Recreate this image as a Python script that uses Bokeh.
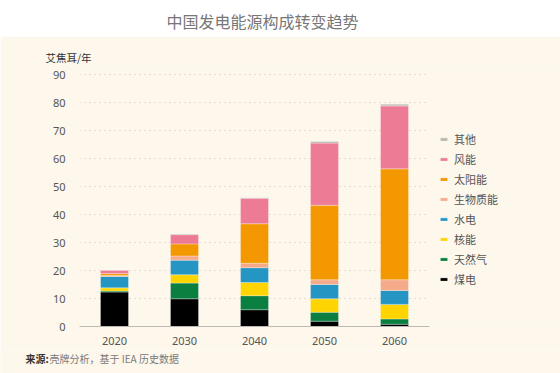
from bokeh.plotting import figure
from bokeh.models import Label, Legend, LegendItem, FixedTicker, Title
from bokeh.layouts import column, row
from bokeh.embed import file_html
from bokeh.resources import INLINE

years = ["2020", "2030", "2040", "2050", "2060"]
series = ["煤电", "天然气", "核能", "水电", "生物质能", "太阳能", "风能", "其他"]
coal = [12.3, 9.9, 6.0, 1.9, 0.8]
gas = [0.4, 5.6, 5.0, 3.2, 1.9]
nuclear = [1.1, 3.0, 4.7, 4.8, 5.2]
hydro = [4.1, 5.2, 5.3, 5.1, 5.0]
biomass = [0.3, 1.5, 1.6, 1.7, 3.8]
solar = [0.7, 4.3, 14.1, 26.6, 39.6]
wind = [1.2, 3.3, 9.1, 22.2, 22.5]
other = [0.1, 0.2, 0.2, 0.6, 0.6]
colors = ["#000000", "#0b7f40", "#ffd400", "#2596c4", "#f5aa8a", "#f39800", "#ed7b96", "#b9b8b1"]
yticks = [0, 10, 20, 30, 40, 50, 60, 70, 80, 90]

CREAM = "#fef7eb"
FONT = "Noto Sans CJK SC"
W = 560

xs = list(range(len(years)))
data = {"x": xs}
for name, vals in zip(series, [coal, gas, nuclear, hydro, biomass, solar, wind, other]):
    data[name] = vals

# ---- title strip (white) ----
t = figure(width=W, height=36, toolbar_location=None, output_backend="svg",
           x_axis_type=None, y_axis_type=None,
           min_border_left=0, min_border_right=0, min_border_top=35, min_border_bottom=0)
t.outline_line_color = None
t.background_fill_color = "white"
t.border_fill_color = "white"
t.grid.visible = False
t.title = Title(text="中国发电能源构成转变趋势", align="left", offset=166, standoff=5,
                text_font=FONT, text_font_size="16px", text_font_style="normal",
                text_color="#777777")

# ---- main chart ----
p = figure(x_range=(-0.5, -0.5 + 481 / 70), y_range=(0, 260 / 2.8), width=W, height=314,
           toolbar_location=None, output_backend="svg",
           min_border_left=79, min_border_right=0, min_border_top=30, min_border_bottom=24)
p.background_fill_color = CREAM
p.border_fill_color = CREAM
p.outline_line_color = None
p.title = Title(text="艾焦耳/年", align="left", offset=-34, standoff=4,
                text_font=FONT, text_font_size="10.5px", text_font_style="normal",
                text_color="#333333")

rs = p.vbar_stack(series, x="x", width=0.4, color=colors, source=data,
                  line_color="white", line_width=0.6, line_alpha=0.5)

p.xgrid.grid_line_color = None
p.ygrid.grid_line_color = None
p.segment(x0=-0.5, x1=4.5, y0=yticks[1:], y1=yticks[1:], line_color="#c9c5bd",
          line_dash="1 4", line_width=1, level="underlay")

p.yaxis.ticker = FixedTicker(ticks=yticks)
p.yaxis.axis_line_color = None
p.yaxis.major_tick_line_color = None
p.yaxis.minor_tick_line_color = None
p.yaxis.major_label_standoff = 8
p.yaxis.major_label_text_font = "Noto Sans"
p.yaxis.major_label_text_font_size = "11px"
p.yaxis.major_label_text_color = "#555555"

p.xaxis.ticker = FixedTicker(ticks=xs)
p.xaxis.major_label_overrides = {i: y for i, y in zip(xs, years)}
p.xaxis.bounds = (-0.5, len(years) - 0.5)
p.xaxis.axis_line_color = "#bdbab3"
p.xaxis.major_tick_line_color = None
p.xaxis.minor_tick_line_color = None
p.xaxis.major_label_standoff = 4
p.xaxis.major_label_text_font = "Noto Sans"
p.xaxis.major_label_text_font_size = "11px"
p.xaxis.major_label_text_color = "#555555"

items = [LegendItem(label=s, renderers=[r]) for s, r in zip(series, rs)][::-1]
legend = Legend(items=items, location=(360, 39), orientation="vertical",
                glyph_width=9, glyph_height=4, label_standoff=6, spacing=4,
                label_height=14, label_text_line_height=1.2, padding=0, margin=0,
                background_fill_alpha=0, border_line_color=None,
                label_text_font=FONT, label_text_font_size="11px", label_text_color="#555555")
p.add_layout(legend, "center")

# ---- source strip ----
s = figure(width=W, height=23, toolbar_location=None, output_backend="svg",
           x_axis_type=None, y_axis_type=None, min_border=0)
s.outline_line_color = None
s.background_fill_color = CREAM
s.border_fill_color = CREAM
s.grid.visible = False
s.add_layout(Label(x=25, y=15, x_units="screen", y_units="screen", text="来源:",
                   text_font=FONT, text_font_size="10px", text_font_style="bold",
                   text_color="#333333", text_baseline="middle"))
s.add_layout(Label(x=49, y=15, x_units="screen", y_units="screen", text="壳牌分析，基于 IEA 历史数据",
                   text_font=FONT, text_font_size="10px", text_color="#7a7a7a",
                   text_baseline="middle"))

layout = column(row(t), p, row(s), spacing=0)
open("out.html", "w").write(file_html(layout, INLINE))
